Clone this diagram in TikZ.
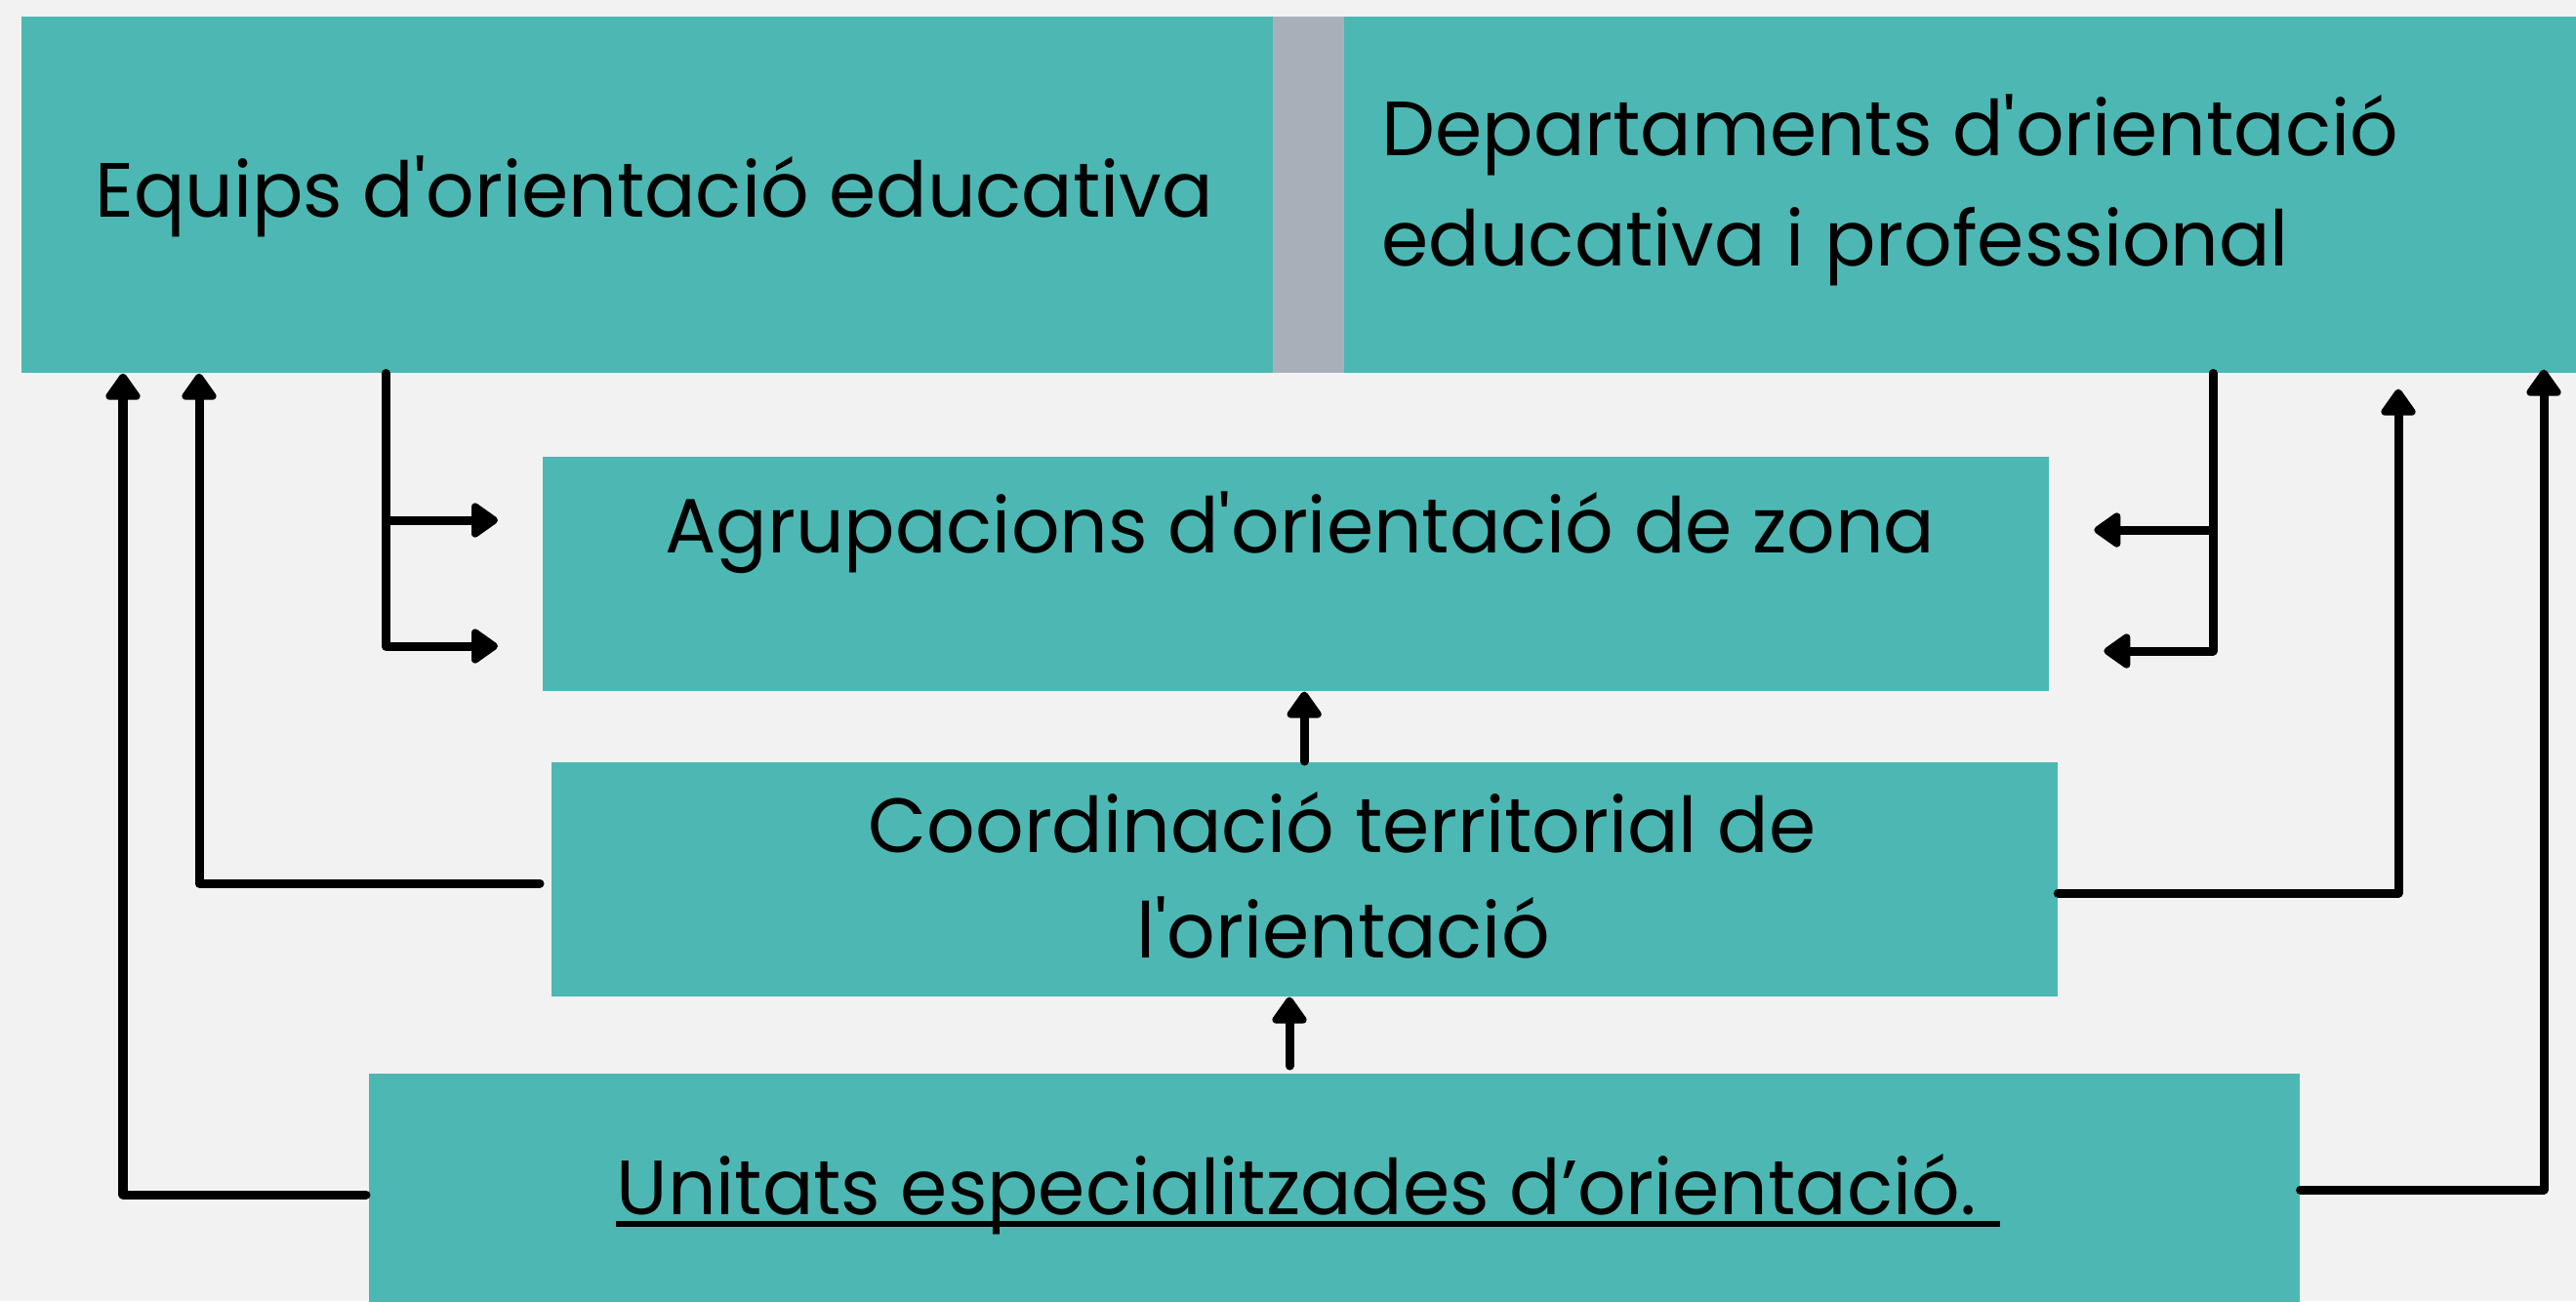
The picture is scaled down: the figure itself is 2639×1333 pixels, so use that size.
\documentclass[tikz,border=0pt]{standalone}
\usepackage{fontspec}
\setmainfont{Poppins}[Ligatures=TeXOff,FakeStretch=0.985]
\usetikzlibrary{arrows.meta,calc}
\definecolor{tealbox}{HTML}{4DB8B3}
\definecolor{bgc}{HTML}{F2F2F2}
\definecolor{barc}{HTML}{A9AFB9}
\begin{document}
\begin{tikzpicture}[x=0.01cm,y=-0.01cm,
  tbox/.style={fill=tealbox,draw=none,inner sep=0pt,anchor=north west},
  lbl/.style={inner sep=0pt,font=\fontsize{22.4pt}{27pt}\selectfont,text=black},
  conn/.style={line width=0.09cm,line cap=round,line join=round},
  arr/.style={conn,-{Triangle[width=0.4cm,length=0.3cm,round]}}]
\fill[bgc] (0,0) rectangle (2639,1333);
\useasboundingbox (0,0) rectangle (2639,1333);
% boxes
\node[tbox,minimum width=12.82cm,minimum height=3.65cm] (eq) at (21,16) {};
\node[tbox,fill=barc,minimum width=0.73cm,minimum height=3.65cm] (bar) at (1303,16) {};
\node[tbox,minimum width=12.63cm,minimum height=3.65cm] (dep) at (1376,16) {};
\node[tbox,minimum width=15.42cm,minimum height=2.40cm] (agr) at (555,467) {};
\node[tbox,minimum width=15.42cm,minimum height=2.40cm] (coo) at (564,780) {};
\node[tbox,minimum width=19.77cm,minimum height=2.34cm] (uni) at (377,1099) {};
% texts
\node[lbl,anchor=base] (teq) at (670,222) {Equips d'orientació educativa};
\node[lbl,anchor=base west] (tdep1) at (1415,159) {Departaments d'orientació};
\node[lbl,anchor=base west] (tdep2) at (1415,272) {educativa i professional};
\node[lbl,anchor=base] (tagr) at (1332,566) {Agrupacions d'orientació de zona};
\node[lbl,anchor=base] (tcoo1) at (1375,873) {Coordinació territorial de};
\node[lbl,anchor=base] (tcoo2) at (1376,981) {l'orientació};
\node[lbl,anchor=base west] (tuni) at (631,1244) {Unitats especialitzades d’orientació.};
\draw[line width=0.06cm] ($(tuni.base west)+(0,10)$) -- ($(tuni.base east)+(24,10)$);
% connectors
\coordinate (e1) at ($(eq.south west)+(374,0)$);
\draw[arr] (e1) |- ($(agr.north west)+(-45,66)$);
\draw[arr] (e1) |- ($(agr.north west)+(-45,195)$);
\coordinate (d1) at ($(dep.south west)+(891,0)$);
\draw[arr] (d1) |- ($(agr.north east)+(46,76)$);
\draw[arr] (d1) |- ($(agr.north east)+(56,200)$);
\draw[arr] (coo.north) -- (coo.north |- agr.south);
\coordinate (u1) at ($(uni.north west)+(944,-7)$);
\draw[arr] (u1) -- (u1 |- coo.south);
\draw[arr] ($(coo.north west)+(-11,125)$) -| ($(eq.south west)+(183,0)$);
\draw[arr] ($(uni.north west)+(-2,125)$) -| ($(eq.south west)+(105,0)$);
\draw[arr] ($(coo.north east)+(0,135)$) -| ($(dep.south west)+(1081,16)$);
\draw[arr] ($(uni.north east)+(0,120)$) -| ($(dep.south west)+(1230,-4)$);
\end{tikzpicture}
\end{document}
